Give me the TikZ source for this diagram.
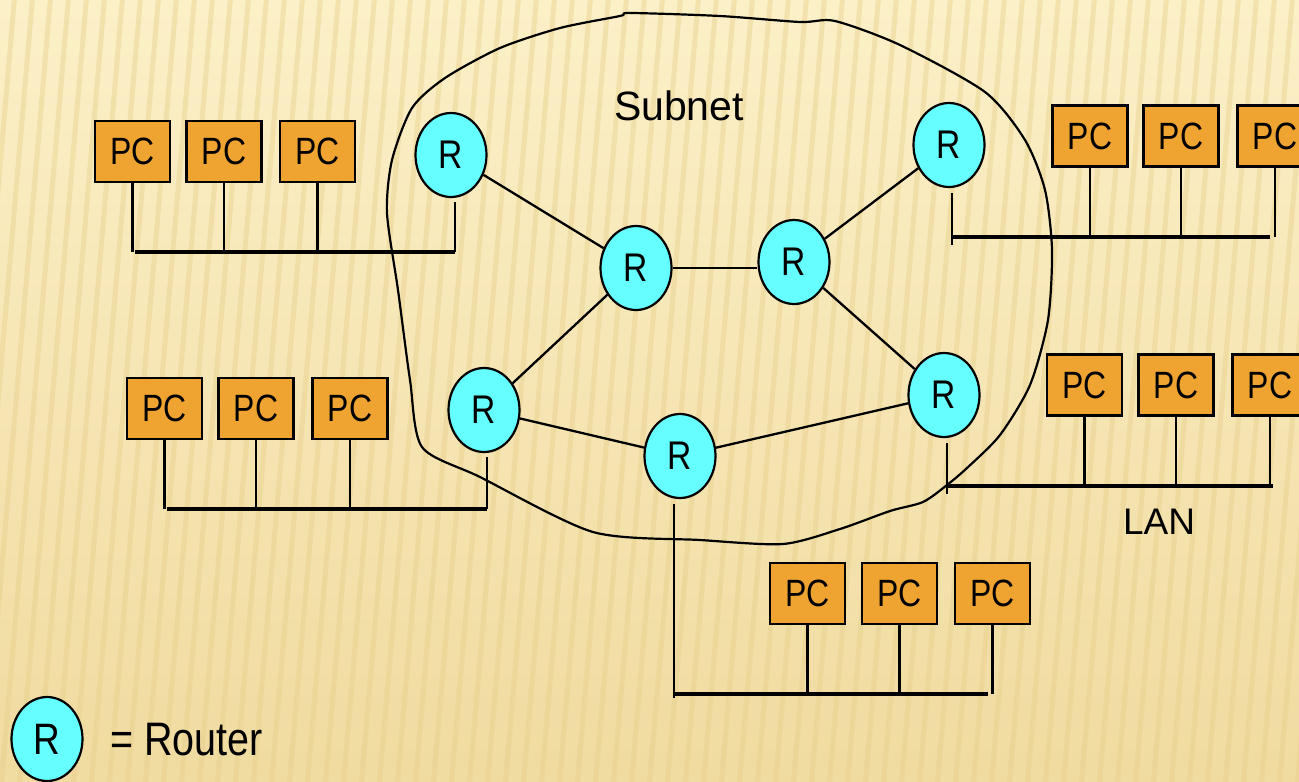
\documentclass[tikz,border=0pt]{standalone}
\usepackage{fontspec}
\setmainfont{Liberation Sans}
\newfontfamily\narrowfont{Liberation Sans}[FakeStretch=0.84]
\usetikzlibrary{shapes.geometric,calc}

\definecolor{bgtop}{HTML}{FCF0C8}
\definecolor{bgbot}{HTML}{F0DBA0}
\definecolor{stripe}{HTML}{E6CE88}
\definecolor{pcfill}{HTML}{EFA431}
\definecolor{rtfill}{HTML}{66FFFF}

\tikzset{
  pcbox/.style={draw=black, line width=2.4pt, fill=pcfill, minimum width=75pt,
    minimum height=61pt, inner sep=0pt, font=\narrowfont\fontsize{38}{40}\selectfont},
  router/.style={ellipse, draw=black, line width=2.2pt, fill=rtfill,
    minimum width=71pt, minimum height=84pt, inner sep=0pt,
    font=\narrowfont\fontsize{40}{44}\selectfont},
  link/.style={line width=2.3pt},
  drop/.style={line width=2.4pt},
  bus/.style={line width=4.5pt},
  hull/.style={line width=2.2pt},
  label/.style={inner sep=0pt, font=\fontsize{41}{44}\selectfont}
}

\begin{document}
\begin{tikzpicture}[x=1pt, y=-1pt]
  \useasboundingbox (0,0) rectangle (1299,782);
  \clip (0,0) rectangle (1299,782);

  % striped paper background
  \shade[top color=bgtop, bottom color=bgbot] (0,0) rectangle (1299,782);
  \foreach \i in {-6,...,72} {
    \draw[stripe, line width=5pt, opacity=0.4] (\i*18, 800) -- (\i*18+70, -20);
  }

  % subnet boundary
  \draw[hull] plot[smooth cycle, tension=0.45] coordinates {
    (630,13) (720,16) (800,22) (835,21) (900,45) (985,92) (1025,140)
    (1045,190) (1052,250) (1048,320) (1030,385) (1000,435) (967,468)
    (947,485) (923,502) (890,511) (840,529) (783,544) (700,540) (593,532)
    (480,477) (422,447) (410,380) (398,290) (387,213) (392,160) (412,108)
    (445,78) (500,48) (560,28) (620,16)};
  \node[label] (subnet) at (679,106) {Subnet};

  % routers
  \node[router] (r1) at (451,155) {R};
  \node[router] (r2) at (484,410) {R};
  \node[router] (r3) at (680,456) {R};
  \node[router] (r4) at (944,395) {R};
  \node[router] (r5) at (949,145) {R};
  \node[router] (c1) at (636,268) {R};
  \node[router] (c2) at (794,262) {R};

  % router links
  \draw[link] (r1) -- (c1);
  \draw[link] (c1.east) -- (c1.east -| c2.west);
  \draw[link] (c2) -- (r5);
  \draw[link] (c2) -- (r4);
  \draw[link] (c1) -- (r2);
  \draw[link] (r2) -- (r3);
  \draw[link] (r3) -- (r4);

  % LAN 1 (top left)
  \node[pcbox] (p11) at (132.5,151.5) {PC};
  \node[pcbox] (p12) at (224,151.5) {PC};
  \node[pcbox] (p13) at (317.5,151.5) {PC};
  \coordinate (b1l) at (135,252);
  \coordinate (b1r) at (455,252);
  \draw[bus] (b1l) -- (b1r);
  \foreach \p in {p11,p12,p13} \draw[drop] (\p.south) -- (\p.south |- b1l);
  \draw[drop] ([xshift=4pt,yshift=-4pt]r1.south) -- (b1r);

  % LAN 2 (middle left)
  \node[pcbox] (p21) at (164.5,408.5) {PC};
  \node[pcbox] (p22) at (256,408.5) {PC};
  \node[pcbox] (p23) at (350,408.5) {PC};
  \coordinate (b2l) at (167,509);
  \coordinate (b2r) at (487,509);
  \draw[bus] (b2l) -- (b2r);
  \foreach \p in {p21,p22,p23} \draw[drop] (\p.south) -- (\p.south |- b2l);
  \draw[drop] ([xshift=3pt,yshift=-4pt]r2.south) -- (b2r);

  % LAN 3 (bottom)
  \node[pcbox] (p31) at (807.5,593.5) {PC};
  \node[pcbox] (p32) at (899.5,593.5) {PC};
  \node[pcbox] (p33) at (992.5,593.5) {PC};
  \coordinate (b3l) at (673,694);
  \coordinate (b3r) at (988,694);
  \coordinate (b3t) at (674,698);
  \coordinate (b3e) at (992.5,694);
  \draw[bus] (b3l) -- (b3r);
  \foreach \p in {p31,p32} \draw[drop] (\p.south) -- (\p.south |- b3l);
  \draw[drop] (p33.south) -- (b3e);
  \draw[drop] ([xshift=-6pt,yshift=-5pt]r3.south) -- (b3t);

  % LAN 4 (right, labelled)
  \node[pcbox] (p41) at (1084.5,385) {PC};
  \node[pcbox] (p42) at (1176,385) {PC};
  \node[pcbox] (p43) at (1270,385) {PC};
  \coordinate (b4l) at (946,486);
  \coordinate (b4r) at (1273,486);
  \coordinate (b4t) at (947,494);
  \draw[bus] (b4l) -- (b4r);
  \foreach \p in {p41,p42,p43} \draw[drop] (\p.south) -- (\p.south |- b4l);
  \draw[drop] ([xshift=3pt,yshift=-5pt]r4.south) -- (b4t);
  \node[label, font=\fontsize{37}{40}\selectfont] (lan) at (1159,522) {LAN};

  % LAN 5 (top right)
  \node[pcbox] (p51) at (1090,136) {PC};
  \node[pcbox] (p52) at (1181,136) {PC};
  \node[pcbox] (p53) at (1275,136) {PC};
  \coordinate (b5l) at (952,237);
  \coordinate (b5r) at (1270,237);
  \coordinate (b5t) at (952,245);
  \draw[bus] (b5l) -- (b5r);
  \foreach \p in {p51,p52,p53} \draw[drop] (\p.south) -- (\p.south |- b5l);
  \draw[drop] ([xshift=3pt,yshift=-5pt]r5.south) -- (b5t);

  % legend
  \node[router, font=\narrowfont\fontsize{44}{48}\selectfont] (key) at (47,739) {R};
  \node[inner sep=0pt, anchor=west, font=\narrowfont\fontsize{47}{52}\selectfont] (keytext) at (110,740) {= Router};
\end{tikzpicture}
\end{document}
